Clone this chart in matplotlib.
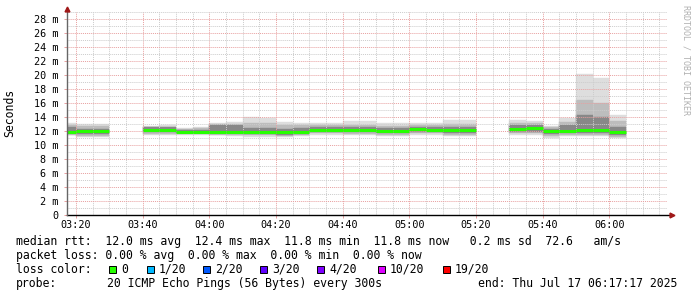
import matplotlib
matplotlib.use("Agg")
import matplotlib.pyplot as plt
from matplotlib.patches import Rectangle
import numpy as np

# bin end times (300s steps), values in ms
bin_end = ["03:20", "03:25", "03:30",
           "03:45", "03:50", "03:55", "04:00", "04:05", "04:10", "04:15",
           "04:20", "04:25", "04:30", "04:35", "04:40", "04:45", "04:50",
           "04:55", "05:00", "05:05", "05:10", "05:15", "05:20",
           "05:35", "05:40", "05:45", "05:50", "05:55", "06:00", "06:05"]
median = [11.9, 12.0, 12.0,
          12.2, 12.2, 11.9, 11.9, 11.9, 11.9, 11.9,
          11.9, 11.8, 11.8, 12.2, 12.2, 12.1, 12.1,
          12.0, 12.0, 12.3, 12.2, 12.1, 12.1,
          12.3, 12.4, 12.0, 12.0, 12.1, 12.1, 11.8]
smoke_lo = [11.4, 11.1, 11.1,
            11.4, 11.5, 11.5, 11.5, 11.4, 11.3, 11.2,
            11.2, 11.2, 11.3, 11.5, 11.5, 11.5, 11.5,
            11.3, 11.3, 11.5, 11.5, 11.3, 11.3,
            11.5, 11.5, 11.0, 11.3, 11.3, 11.3, 11.0]
smoke_hi = [13.2, 13.0, 13.0,
            12.7, 12.8, 12.4, 12.6, 13.2, 13.3, 14.0,
            13.9, 13.3, 13.2, 13.1, 13.1, 13.5, 13.5,
            13.1, 13.1, 13.1, 13.1, 13.5, 13.5,
            13.6, 13.4, 12.7, 13.9, 20.2, 19.6, 14.3]
p10 = [11.5, 11.3, 11.3,
       11.6, 11.6, 11.6, 11.6, 11.5, 11.5, 11.4,
       11.4, 11.3, 11.4, 11.7, 11.7, 11.6, 11.6,
       11.5, 11.5, 11.7, 11.7, 11.5, 11.5,
       11.7, 11.7, 11.3, 11.5, 11.5, 11.5, 11.2]
p90 = [12.9, 12.7, 12.7,
       12.6, 12.6, 12.3, 12.4, 13.0, 13.0, 13.2,
       13.1, 12.9, 12.8, 12.9, 12.9, 12.9, 12.9,
       12.7, 12.7, 12.8, 12.8, 13.0, 13.0,
       13.2, 13.1, 12.5, 13.3, 16.4, 16.0, 13.5]
q1 = [11.7, 11.6, 11.6,
      11.8, 11.8, 11.7, 11.7, 11.7, 11.7, 11.6,
      11.6, 11.5, 11.6, 11.9, 11.9, 11.8, 11.8,
      11.7, 11.7, 11.9, 11.9, 11.7, 11.7,
      11.9, 11.9, 11.6, 11.7, 11.7, 11.7, 11.4]
q3 = [12.6, 12.3, 12.3,
      12.5, 12.5, 12.1, 12.2, 12.8, 12.8, 12.5,
      12.5, 12.3, 12.4, 12.6, 12.6, 12.5, 12.5,
      12.4, 12.4, 12.6, 12.6, 12.6, 12.6,
      12.8, 12.8, 12.3, 12.8, 14.3, 14.0, 12.6]

x_ticks = ["03:20", "03:40", "04:00", "04:20", "04:40", "05:00", "05:20", "05:40", "06:00"]
y_ticks = [0, 2, 4, 6, 8, 10, 12, 14, 16, 18, 20, 22, 24, 26, 28]
y_labels = ["0"] + ["%d m" % v for v in y_ticks[1:]]

loss_labels = ["0", "1/20", "2/20", "3/20", "4/20", "10/20", "19/20"]
loss_colors = ["#26ff00", "#00b8ff", "#0059ff", "#5e00ff", "#7e00ff", "#dd00ff", "#ff0000"]
loss_box_x = [109, 147, 203, 260, 317, 378, 443]


def to_min(s):
    h, m = s.split(":")
    return int(h) * 60 + int(m)


W, H = 697, 297
mono = "DejaVu Sans Mono"
plt.rcParams["font.family"] = mono

fig = plt.figure(figsize=(W / 100, H / 100), dpi=100)
ax = fig.add_axes([67 / W, 82 / H, 600 / W, 203 / H])

ends = np.array([to_min(s) for s in bin_end], dtype=float)
starts = ends - 5
lo = np.array(smoke_lo)
hi = np.array(smoke_hi)

# smoke: outer -> inner
for a, b, col in [(lo, hi, "#dedede"), (np.array(p10), np.array(p90), "#bdbdbd"),
                  (np.array(q1), np.array(q3), "#888888")]:
    ax.bar(starts, b - a, bottom=a, width=5, align="edge", color=col,
           edgecolor=col, linewidth=0.3, zorder=1)

ax.hlines(median, starts, ends, colors=loss_colors[0], linewidth=2.2, zorder=3)

t0 = to_min("03:17") + 17 / 60
ax.set_xlim(t0, t0 + 180)
ax.set_ylim(0, 29)

ax.set_xticks([to_min(s) for s in x_ticks])
ax.set_xticklabels(x_ticks)
ax.set_xticks(np.arange(200, 378, 5), minor=True)
ax.set_yticks(y_ticks)
ax.set_yticklabels(y_labels)
ax.set_yticks(np.arange(1, 30, 2), minor=True)

ax.grid(which="minor", color="#cccccc", linestyle=(0, (1, 1)), linewidth=0.7)
ax.grid(which="major", color="#e8a0a0", linestyle=(0, (1, 1)), linewidth=0.7)
ax.tick_params(which="major", length=2, width=0.7, color="#e8a0a0", labelsize=7.3)
ax.tick_params(which="minor", length=0)
ax.tick_params(axis="x", pad=1.5)
ax.tick_params(axis="y", pad=4)

for s in ax.spines.values():
    s.set_visible(False)
ax.plot([0, 1.008], [0, 0], color="black", lw=1, transform=ax.transAxes, clip_on=False, zorder=5)
ax.plot([0, 0], [0, 1.01], color="#666666", lw=1, transform=ax.transAxes, clip_on=False, zorder=5)
ax.plot(1.009, 0, marker=">", ms=3.5, color="#a01818", transform=ax.transAxes, clip_on=False, zorder=6)
ax.plot(0, 1.015, marker="^", ms=3.5, color="#a01818", transform=ax.transAxes, clip_on=False, zorder=6)

fig.text(10 / W, 1 - 113 / H, "Seconds", rotation=90, ha="center", va="center", fontsize=8.3)
fig.text(686 / W, 1 - 5 / H, "RRDTOOL / TOBI OETIKER", rotation=-90, ha="center", va="top",
         fontsize=6, color="#b0b0b0")


def ftext(x, y, s):
    fig.text(x / W, 1 - y / H, s, ha="left", va="baseline", fontsize=8.3)


ftext(16, 245, "median rtt:  12.0 ms avg  12.4 ms max  11.8 ms min  11.8 ms now   0.2 ms sd  72.6   am/s")
ftext(16, 259, "packet loss: 0.00 % avg  0.00 % max  0.00 % min  0.00 % now")
ftext(16, 273, "loss color:")
for bx, lab, col in zip(loss_box_x, loss_labels, loss_colors):
    fig.patches.append(Rectangle((bx / W, 1 - 273 / H), 7 / W, 7.5 / H, transform=fig.transFigure,
                                 facecolor=col, edgecolor="black", linewidth=0.7))
    ftext(bx + 12, 273, lab)
ftext(16, 287, "probe:")
ftext(107, 287, "20 ICMP Echo Pings (56 Bytes) every 300s")
ftext(478, 287, "end: Thu Jul 17 06:17:17 2025")

fig.savefig("out.png", dpi=100)
